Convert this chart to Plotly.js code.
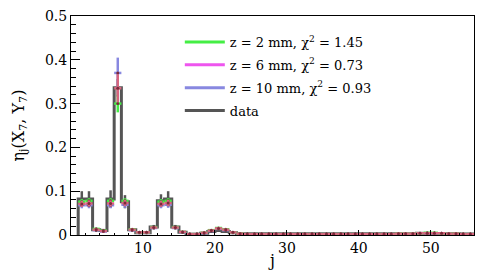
<!DOCTYPE html>
<html><head><meta charset="utf-8">
<script src="https://cdn.plot.ly/plotly-3.0.1.min.js"></script>
<style>html,body{margin:0;padding:0;background:#fff}#c{width:485px;height:271px}</style>
</head><body><div id="c"></div>
<script>
// bin index j (bins [j, j+1))
const bins = Array.from({length:55},(_,i)=>i+1);
const dataVals = [0.082,0.082,0.012,0.010,0.082,0.336,0.076,0.012,0.005,0.005,
  0.018,0.078,0.082,0.018,0.006,0.001,0.002,0.004,0.008,0.010,
  0.008,0.005,0.003,0.002,0.002,0.002,0.002,0.002,0.002,0.002,
  0.002,0.002,0.002,0.002,0.002,0.002,0.002,0.002,0.002,0.002,
  0.002,0.002,0.002,0.002,0.003,0.003,0.003,0.004,0.004,0.004,
  0.004,0.003,0.003,0.002,0.002];
const dataErr = [0.018,0.018,0.004,0.004,0.02,0.02,0.015,0.004,0.003,0.003,
  0.005,0.015,0.018,0.005,0.003,0.002,0.002,0.002,0.003,0.003,
  0.003,0.002,0.002,0.001,0.001,0.001,0.001,0.001,0.001,0.001,
  0.001,0.001,0.001,0.001,0.001,0.001,0.001,0.001,0.001,0.001,
  0.001,0.001,0.001,0.001,0.001,0.001,0.001,0.001,0.001,0.001,
  0.001,0.001,0.001,0.001,0.001];
const z2Vals = [0.076,0.078,0.014,0.010,0.078,0.300,0.078,0.013,0.006,0.006,
  0.018,0.076,0.078,0.018,0.007,0.002,0.002,0.005,0.011,0.016,
  0.013,0.006,0.003,0.002,0.002,0.002,0.002,0.002,0.002,0.002,
  0.002,0.002,0.002,0.002,0.002,0.002,0.002,0.002,0.002,0.002,
  0.002,0.002,0.002,0.002,0.003,0.003,0.003,0.004,0.005,0.005,
  0.004,0.003,0.003,0.002,0.002];
const z2Err = [0.006,0.006,0.002,0.002,0.006,0.02,0.006,0.002,0.001,0.001,
  0.002,0.006,0.006,0.002,0.001,0.001,0.001,0.001,0.001,0.002,
  0.001,0.001,0.001,0.001,0.001,0.001,0.001,0.001,0.001,0.001,
  0.001,0.001,0.001,0.001,0.001,0.001,0.001,0.001,0.001,0.001,
  0.001,0.001,0.001,0.001,0.001,0.001,0.001,0.001,0.001,0.001,
  0.001,0.001,0.001,0.001,0.001];
const z6Vals = [0.071,0.072,0.012,0.009,0.072,0.335,0.073,0.012,0.006,0.006,
  0.017,0.071,0.073,0.017,0.007,0.002,0.002,0.005,0.010,0.015,
  0.012,0.006,0.003,0.002,0.002,0.002,0.002,0.002,0.002,0.002,
  0.002,0.002,0.002,0.002,0.002,0.002,0.002,0.002,0.002,0.002,
  0.002,0.002,0.002,0.002,0.003,0.003,0.003,0.004,0.004,0.004,
  0.004,0.003,0.003,0.002,0.002];
const z6Err = [0.007,0.007,0.002,0.002,0.007,0.032,0.007,0.002,0.001,0.001,
  0.002,0.007,0.007,0.002,0.001,0.001,0.001,0.001,0.001,0.002,
  0.001,0.001,0.001,0.001,0.001,0.001,0.001,0.001,0.001,0.001,
  0.001,0.001,0.001,0.001,0.001,0.001,0.001,0.001,0.001,0.001,
  0.001,0.001,0.001,0.001,0.001,0.001,0.001,0.001,0.001,0.001,
  0.001,0.001,0.001,0.001,0.001];
const z10Vals = [0.068,0.068,0.011,0.008,0.068,0.370,0.069,0.011,0.005,0.005,
  0.016,0.068,0.069,0.016,0.006,0.002,0.002,0.004,0.009,0.014,
  0.011,0.005,0.002,0.002,0.002,0.002,0.002,0.002,0.002,0.002,
  0.002,0.002,0.002,0.002,0.002,0.002,0.002,0.002,0.002,0.002,
  0.002,0.002,0.002,0.002,0.002,0.003,0.003,0.004,0.004,0.004,
  0.004,0.003,0.002,0.002,0.002];
const z10Err = [0.007,0.007,0.002,0.002,0.007,0.035,0.007,0.002,0.001,0.001,
  0.002,0.007,0.007,0.002,0.001,0.001,0.001,0.001,0.001,0.002,
  0.001,0.001,0.001,0.001,0.001,0.001,0.001,0.001,0.001,0.001,
  0.001,0.001,0.001,0.001,0.001,0.001,0.001,0.001,0.001,0.001,
  0.001,0.001,0.001,0.001,0.001,0.001,0.001,0.001,0.001,0.001,
  0.001,0.001,0.001,0.001,0.001];
const legendNames = ["z = 2 mm, χ<sup>2</sup> = 1.45","z = 6 mm, χ<sup>2</sup> = 0.73","z = 10 mm, χ<sup>2</sup> = 0.93","data"];

const centers = bins.map(b=>b+0.5);
// histogram step outline
const hx = [bins[0]], hy = [0];
bins.forEach((b,i)=>{hx.push(b); hy.push(dataVals[i]); hx.push(b+1); hy.push(dataVals[i]);});
hx.push(bins[bins.length-1]+1); hy.push(0);

const C_DATA='#555555', C_G='#44ee44', C_M='#ee55ee', C_B='#8888e0';
function model(vals, errs, col){
  return {x:centers, y:vals, type:'scatter', mode:'markers', showlegend:false, hoverinfo:'skip',
    marker:{size:3, color:'#7a2a3a'},
    error_x:{type:'constant', value:0.5, color:col, thickness:2.5, width:0},
    error_y:{type:'data', array:errs, color:col, thickness:2.5, width:0}};
}
function legendItem(name, col, g){
  return {x:[null], y:[null], type:'scatter', mode:'lines', name:name, legendgroup:g, line:{color:col, width:3}};
}
const traces = [
  {x:hx, y:hy, type:'scatter', mode:'lines', line:{color:C_DATA, width:3}, showlegend:false, hoverinfo:'skip'},
  {x:centers, y:dataVals, type:'scatter', mode:'markers', marker:{size:1,color:C_DATA}, showlegend:false,
    error_y:{type:'data', array:dataErr, color:C_DATA, thickness:2.5, width:0}},
  model(z10Vals, z10Err, C_B),
  model(z2Vals, z2Err, C_G),
  model(z6Vals, z6Err, '#d8657f'),
  legendItem(legendNames[0], C_G, 'a'),
  legendItem(legendNames[1], C_M, 'b'),
  legendItem(legendNames[2], C_B, 'c'),
  legendItem(legendNames[3], C_DATA, 'd')
];
const layout = {
  width:485, height:271, margin:{l:71, r:11, t:16, b:36},
  paper_bgcolor:'#fff', plot_bgcolor:'#fff',
  font:{family:'DejaVu Serif', size:14, color:'#000'},
  showlegend:true,
  legend:{x:0.27, y:0.95, xanchor:'left', yanchor:'top', bgcolor:'rgba(0,0,0,0)', font:{size:13},
    traceorder:'grouped', tracegroupgap:3, itemwidth:40},
  xaxis:{range:[0,56], showgrid:false, zeroline:false, showline:true, mirror:true, linecolor:'#000', linewidth:1,
    ticks:'inside', tickvals:[10,20,30,40,50], ticklen:5, tickcolor:'#000',
    minor:{dtick:2, tick0:0, ticks:'inside', ticklen:2, tickcolor:'#000'},
    title:{text:'j', font:{size:16}, standoff:0}},
  yaxis:{range:[0,0.5], showgrid:false, zeroline:false, showline:true, mirror:true, linecolor:'#000', linewidth:1,
    ticks:'inside', dtick:0.1, ticklen:9, tickcolor:'#000',
    minor:{dtick:0.02, ticks:'inside', ticklen:5, tickcolor:'#000'},
    title:{text:'η<sub>j</sub>(X<sub>7</sub>, Y<sub>7</sub>)', font:{size:16}, standoff:16}}
};
Plotly.newPlot('c', traces, layout, {displayModeBar:false});
</script></body></html>
